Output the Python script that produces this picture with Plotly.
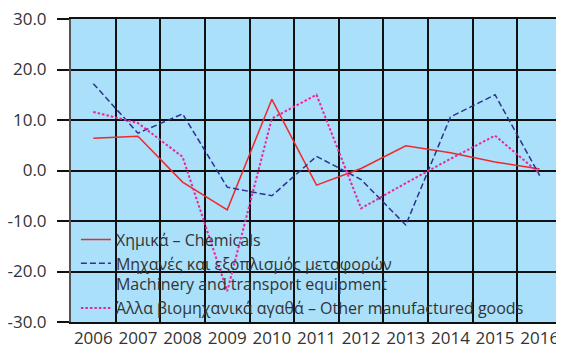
import plotly.graph_objects as go

years = ["2006", "2007", "2008", "2009", "2010", "2011", "2012", "2013", "2014", "2015", "2016"]
chemicals = [6.4, 6.8, -2.3, -7.8, 14.1, -2.9, 0.4, 4.9, 3.5, 1.7, 0.3]
machinery = [17.2, 7.4, 11.2, -3.3, -5.0, 2.8, -1.8, -10.8, 10.6, 15.0, -1.0]
other = [11.6, 9.4, 2.7, -23.9, 10.3, 15.0, -7.5, -2.5, 2.3, 6.9, -0.6]
y_ticks = [30, 20, 10, 0, -10, -20, -30]
y_tick_labels = ["30.0", "20.0", "10.0", "0.0", "-10.0", "-20.0", "-30.0"]

names = [
    "Χημικά – Chemicals",
    "Μηχανές και εξοπλισμός μεταφορών<br>Machinery and transport equipment",
    "Άλλα βιομηχανικά αγαθά – Other manufactured goods",
]

fig = go.Figure()
fig.add_trace(go.Scatter(x=years, y=chemicals, name=names[0], mode="lines",
                         line=dict(color="#f0282d", width=1.5)))
fig.add_trace(go.Scatter(x=years, y=machinery, name=names[1], mode="lines",
                         line=dict(color="#2e3192", width=1.5, dash="6px,3px")))
fig.add_trace(go.Scatter(x=years, y=other, name=names[2], mode="lines",
                         line=dict(color="#e6299a", width=2, dash="2.5px,2px")))

font = "Open Sans"
# page body has an 8px margin, so the figure is 8px smaller and margins shifted
fig.update_layout(
    width=556, height=345,
    margin=dict(l=63, r=2, t=11, b=31),
    paper_bgcolor="white",
    plot_bgcolor="#aae0fa",
    font=dict(family=font, size=15, color="#333333"),
    legend=dict(x=0.01, y=0.328, xanchor="left", yanchor="top",
                bgcolor="rgba(0,0,0,0)", valign="top",
                font=dict(size=16, color="#333333"),
                tracegroupgap=0, itemwidth=30),
    showlegend=True,
)
fig.update_xaxes(type="category", range=[-0.5, 10.5], tickson="boundaries", showgrid=True,
                 gridcolor="#111111", gridwidth=1.5, ticks="", tickangle=0,
                 showline=True, mirror=True, linecolor="#111111", linewidth=1.5,
                 ticklabeloverflow="allow",
                 tickfont=dict(size=17, color="#333333"), automargin=False)
fig.update_yaxes(range=[-30, 30], tickvals=y_ticks, ticktext=y_tick_labels, showgrid=True,
                 gridcolor="#111111", gridwidth=1.5, zeroline=False,
                 ticks="outside", ticklen=12, tickcolor="#111111", tickwidth=1.5,
                 showline=True, mirror=True, linecolor="#555555", linewidth=2,
                 ticklabeloverflow="allow", ticklabelstandoff=7,
                 tickfont=dict(size=17, color="#333333"), automargin=False)

fig.write_html("out.html")
